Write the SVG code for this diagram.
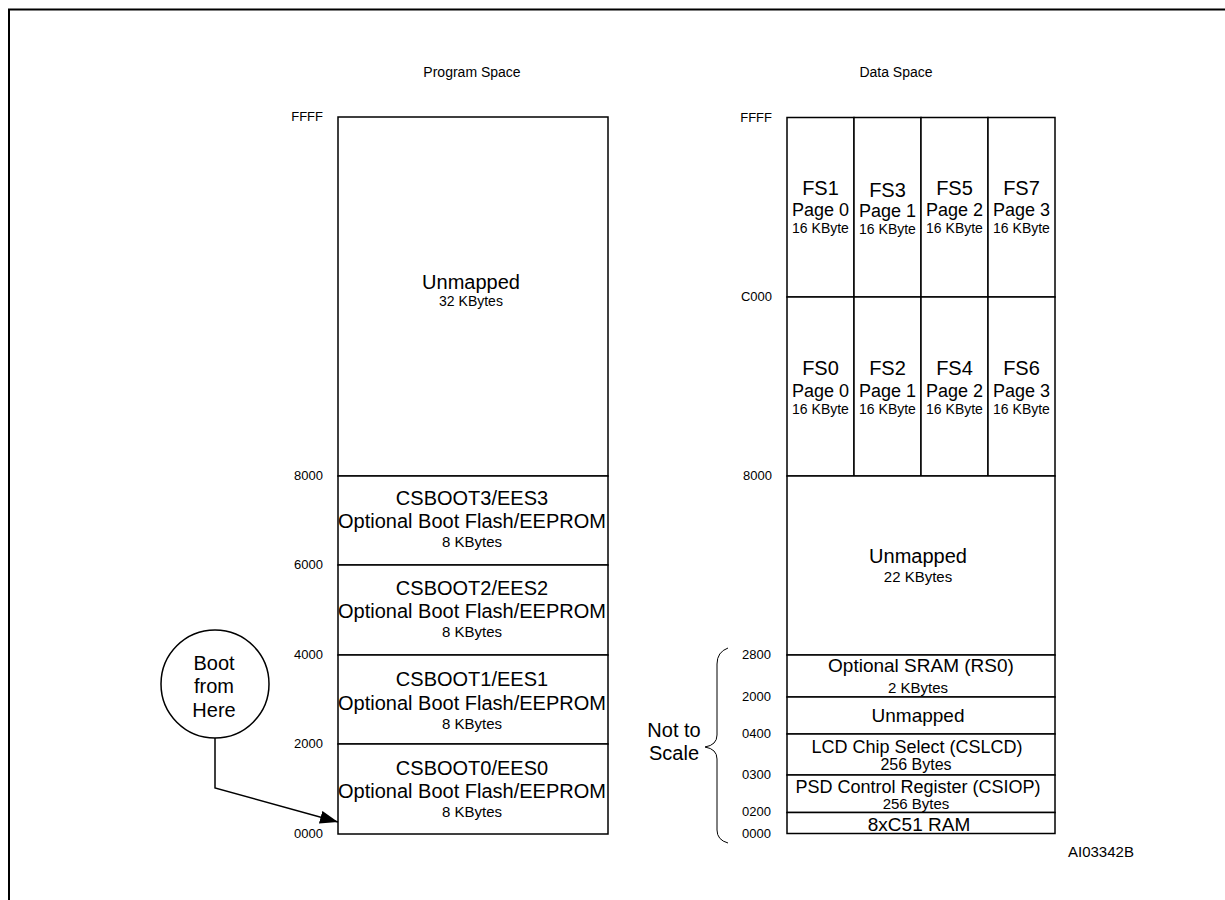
<svg xmlns="http://www.w3.org/2000/svg" width="1225" height="900" viewBox="0 0 1225 900">
<style>
text{font-family:"Liberation Sans",Arial,sans-serif;fill:#000}
.blk{fill:#fff;stroke:#000;stroke-width:1.5}
.c{text-anchor:middle}
.f20{font-size:20px}
.f19{font-size:19px}
.f18{font-size:18px}
.f16{font-size:16px}
.f15{font-size:15px}
.f14{font-size:14px}
.addr{font-size:13px;text-anchor:end}
.ln{fill:none;stroke:#000;stroke-width:1.5}
</style>
<defs>
<marker id="ah" viewBox="0 0 18 13" refX="18" refY="6.5" markerWidth="18" markerHeight="13" markerUnits="userSpaceOnUse" orient="auto"><path d="M0,0 L18,6.5 L0,13 z" fill="#000"/></marker>
</defs>
<rect width="1225" height="900" fill="#fff"/>
<g id="frame"><path d="M9,900 V9.5 H1225" fill="none" stroke="#000" stroke-width="2"/></g>

<g id="titles">
<text class="c f14" x="472" y="77">Program Space</text>
<text class="c f14" x="896" y="77">Data Space</text>
</g>

<g id="prog-addr">
<text class="addr" x="323" y="121">FFFF</text>
<text class="addr" x="323" y="480">8000</text>
<text class="addr" x="323" y="569">6000</text>
<text class="addr" x="323" y="659">4000</text>
<text class="addr" x="323" y="748">2000</text>
<text class="addr" x="323" y="838">0000</text>
</g>

<g id="prog-unmapped"><rect class="blk" x="338" y="117" width="270" height="359"/>
<text class="c f20" x="471" y="289">Unmapped</text><text class="c f14" x="471" y="306">32 KBytes</text></g>
<g id="csboot3"><rect class="blk" x="338" y="476" width="270" height="89"/>
<text class="c f20" x="472" y="505">CSBOOT3/EES3</text><text class="c f20" x="472" y="528">Optional Boot Flash/EEPROM</text><text class="c f15" x="472" y="547">8 KBytes</text></g>
<g id="csboot2"><rect class="blk" x="338" y="565" width="270" height="90"/>
<text class="c f20" x="472" y="595">CSBOOT2/EES2</text><text class="c f20" x="472" y="618">Optional Boot Flash/EEPROM</text><text class="c f15" x="472" y="637">8 KBytes</text></g>
<g id="csboot1"><rect class="blk" x="338" y="655" width="270" height="89"/>
<text class="c f20" x="472" y="686">CSBOOT1/EES1</text><text class="c f20" x="472" y="710">Optional Boot Flash/EEPROM</text><text class="c f15" x="472" y="729">8 KBytes</text></g>
<g id="csboot0"><rect class="blk" x="338" y="744" width="270" height="90"/>
<text class="c f20" x="472" y="775">CSBOOT0/EES0</text><text class="c f20" x="472" y="798">Optional Boot Flash/EEPROM</text><text class="c f15" x="472" y="817">8 KBytes</text></g>

<g id="boot">
<circle cx="215" cy="684" r="54" fill="#fff" stroke="#000" stroke-width="1.5"/>
<text class="c f20" x="214" y="670">Boot</text>
<text class="c f20" x="214" y="693">from</text>
<text class="c f20" x="214" y="717">Here</text>
</g>

<g id="connectors">
<path class="ln" d="M215,738 V788 L338,822" marker-end="url(#ah)"/>
</g>

<g id="data-addr">
<text class="addr" x="772" y="122">FFFF</text>
<text class="addr" x="772" y="301">C000</text>
<text class="addr" x="772" y="480">8000</text>
<text class="addr" x="771" y="659">2800</text>
<text class="addr" x="771" y="701">2000</text>
<text class="addr" x="771" y="738">0400</text>
<text class="addr" x="771" y="779">0300</text>
<text class="addr" x="771" y="816">0200</text>
<text class="addr" x="771" y="838">0000</text>
</g>

<g id="fs1"><rect class="blk" x="787" y="117.5" width="67" height="179.5"/>
<text class="c f20" x="820.5" y="195">FS1</text><text class="c f18" x="820.5" y="216">Page 0</text><text class="c f14" x="820.5" y="233">16 KByte</text></g>
<g id="fs3"><rect class="blk" x="854" y="117.5" width="67" height="179.5"/>
<text class="c f20" x="887.5" y="197">FS3</text><text class="c f18" x="887.5" y="217">Page 1</text><text class="c f14" x="887.5" y="234">16 KByte</text></g>
<g id="fs5"><rect class="blk" x="921" y="117.5" width="67" height="179.5"/>
<text class="c f20" x="954.5" y="195">FS5</text><text class="c f18" x="954.5" y="216">Page 2</text><text class="c f14" x="954.5" y="233">16 KByte</text></g>
<g id="fs7"><rect class="blk" x="988" y="117.5" width="67" height="179.5"/>
<text class="c f20" x="1021.5" y="195">FS7</text><text class="c f18" x="1021.5" y="216">Page 3</text><text class="c f14" x="1021.5" y="233">16 KByte</text></g>

<g id="fs0"><rect class="blk" x="787" y="297" width="67" height="179"/>
<text class="c f20" x="820.5" y="375">FS0</text><text class="c f18" x="820.5" y="397">Page 0</text><text class="c f14" x="820.5" y="414">16 KByte</text></g>
<g id="fs2"><rect class="blk" x="854" y="297" width="67" height="179"/>
<text class="c f20" x="887.5" y="375">FS2</text><text class="c f18" x="887.5" y="397">Page 1</text><text class="c f14" x="887.5" y="414">16 KByte</text></g>
<g id="fs4"><rect class="blk" x="921" y="297" width="67" height="179"/>
<text class="c f20" x="954.5" y="375">FS4</text><text class="c f18" x="954.5" y="397">Page 2</text><text class="c f14" x="954.5" y="414">16 KByte</text></g>
<g id="fs6"><rect class="blk" x="988" y="297" width="67" height="179"/>
<text class="c f20" x="1021.5" y="375">FS6</text><text class="c f18" x="1021.5" y="397">Page 3</text><text class="c f14" x="1021.5" y="414">16 KByte</text></g>

<g id="data-unmapped"><rect class="blk" x="787" y="476" width="268" height="179"/>
<text class="c f20" x="918" y="563">Unmapped</text><text class="c f15" x="918" y="582">22 KBytes</text></g>
<g id="sram"><rect class="blk" x="787" y="655" width="268" height="42"/>
<text class="c f19" x="921" y="672">Optional SRAM (RS0)</text><text class="c f15" x="918" y="693">2 KBytes</text></g>
<g id="unmapped2"><rect class="blk" x="787" y="697" width="268" height="37"/>
<text class="c f19" x="918" y="722">Unmapped</text></g>
<g id="cslcd"><rect class="blk" x="787" y="734" width="268" height="41"/>
<text class="c f18" x="917" y="753">LCD Chip Select (CSLCD)</text><text class="c f16" x="916" y="770">256 Bytes</text></g>
<g id="csiop"><rect class="blk" x="787" y="775" width="268" height="37.5"/>
<text class="c f18" x="918" y="793">PSD Control Register (CSIOP)</text><text class="c f15" x="916" y="809">256 Bytes</text></g>
<g id="ram"><rect class="blk" x="787" y="812.5" width="268" height="21"/>
<text class="c f19" x="919" y="830.5">8xC51 RAM</text></g>

<g id="scale-note">
<path d="M728,648 Q717,652 717,664 V735 Q717,745 705,747 Q717,749 717,759 V830 Q717,840 728,843" fill="none" stroke="#000" stroke-width="1"/>
<text class="c f20" x="674" y="737">Not to</text>
<text class="c f20" x="674" y="760">Scale</text>
</g>

<text class="f15" x="1068" y="857">AI03342B</text>
</svg>
